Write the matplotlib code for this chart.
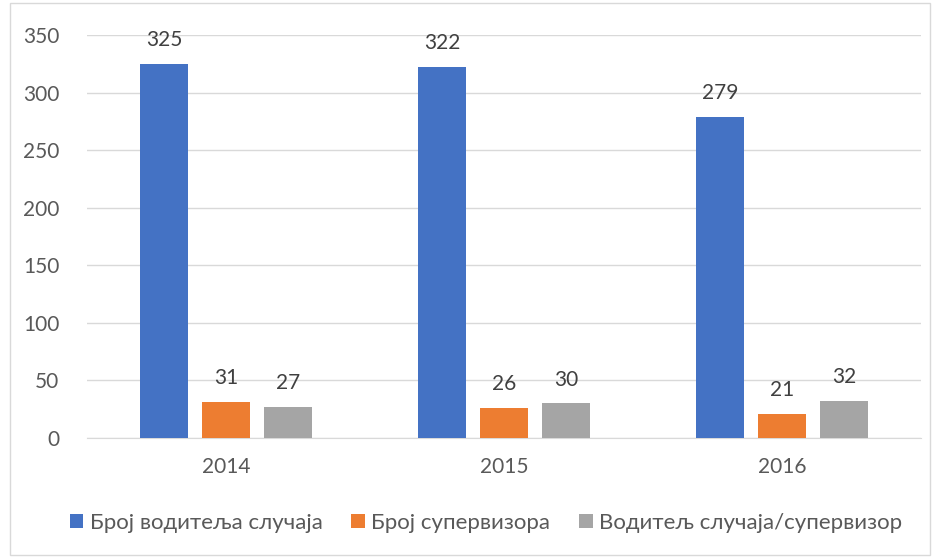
import numpy as np
import matplotlib.pyplot as plt
from matplotlib.patches import Rectangle

years = ['2014', '2015', '2016']
vodioci = [325, 322, 279]
supervizori = [31, 26, 21]
odnos = [27, 30, 32]
serije = ['Број водитеља случаја', 'Број супервизора', 'Водитељ случаја/супервизор']
boje = ['#4472C4', '#ED7D31', '#A5A5A5']

plt.rcParams['font.family'] = ['Lato', 'DejaVu Sans']
tekst = '#595959'

fig = plt.figure(figsize=(9.32, 5.58), dpi=100)
fig.patches.append(Rectangle((10 / 932, 3 / 558), 920 / 932, 552 / 558, transform=fig.transFigure,
                             fill=False, edgecolor='#D9D9D9', linewidth=1))
ax = fig.add_axes([87 / 932, 1 - 438 / 558, 834 / 932, 403 / 558])

x = np.arange(len(years))
w = 0.173
step = 0.223
for i, (vals, name, c) in enumerate(zip([vodioci, supervizori, odnos], serije, boje)):
    pos = x + (i - 1) * step
    ax.bar(pos, vals, width=w, color=c, label=name, zorder=3)
    for p, v in zip(pos, vals):
        ax.text(p, v + 12, str(v), ha='center', va='bottom', fontsize=15, color='#404040')

ax.set_xlim(-0.5, 2.5)
ax.set_ylim(0, 350)
ax.set_yticks(range(0, 351, 50))
ax.set_xticks(x)
ax.set_xticklabels(years)
ax.grid(axis='y', color='#D9D9D9', linewidth=1, zorder=0)
for s in ['top', 'right', 'left']:
    ax.spines[s].set_visible(False)
ax.spines['bottom'].set_color('#D9D9D9')
ax.tick_params(length=0, labelsize=15, colors=tekst, pad=14)
ax.tick_params(axis='y', pad=20)

fig.legend(loc='center', bbox_to_anchor=(486 / 932, 1 - 523 / 558), ncol=3, frameon=False,
           fontsize=16, labelcolor=tekst, handlelength=0.6, handleheight=0.6, columnspacing=1.3,
           handletextpad=0.3)

fig.savefig('out.png', dpi=100)
